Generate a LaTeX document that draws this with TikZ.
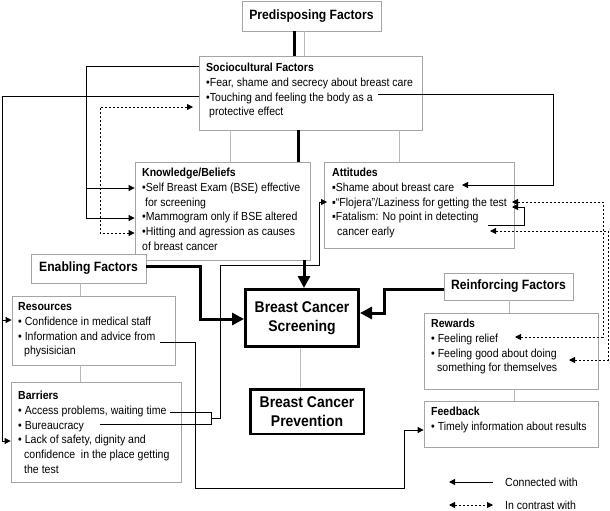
\documentclass[tikz,border=0pt]{standalone}
\usepackage{fontspec}
\setmainfont{Liberation Sans}[FakeStretch=0.9]
\usetikzlibrary{arrows.meta}
\definecolor{boxgray}{RGB}{165,165,165}
\definecolor{linegray}{RGB}{185,185,185}
\begin{document}
\begin{tikzpicture}[x=1pt,y=-1pt,
  box/.style={draw=boxgray, line width=0.8pt, fill=white, inner sep=0pt},
  ttl/.style={font=\fontsize{13.5}{16}\selectfont\bfseries},
  bigttl/.style={font=\fontsize{15.5}{19}\selectfont\bfseries, align=center},
  txt/.style={anchor=north west, inner sep=0pt, align=left, font=\fontsize{11.7}{14.7}\selectfont},
  lgd/.style={anchor=west, inner sep=0pt, font=\fontsize{11.7}{14.7}\selectfont},
  wire/.style={line width=0.8pt},
  conn/.style={line width=0.8pt, -{Triangle[length=6pt,width=6pt]}},
  dconn/.style={line width=0.8pt, dash pattern=on 2.5pt off 1.5pt, {Triangle[length=6pt,width=6pt]}-{Triangle[length=6pt,width=6pt]}},
  heavy/.style={line width=3pt},
  heavyarrow/.style={line width=3pt, -{Triangle[length=12pt,width=12pt]}},
  glink/.style={draw=linegray, line width=0.8pt}
]
\fill[white] (0,0) rectangle (610,511);
\useasboundingbox (0,0) rectangle (610,511);

% ---- boxes ----
\node[box, ttl, minimum width=139, minimum height=30] (pre) at (311.5,16) {Predisposing Factors};
\node[box, minimum width=223, minimum height=74] (soc) at (310.5,93) {};
\node[box, minimum width=175, minimum height=98] (know) at (222.5,211) {};
\node[box, minimum width=190, minimum height=86] (att) at (419,205) {};
\node[box, ttl, minimum width=115, minimum height=29] (enab) at (88.5,268.5) {Enabling Factors};
\node[box, minimum width=163, minimum height=69] (res) at (93.5,330.5) {};
\node[box, minimum width=170, minimum height=100] (bar) at (96,432) {};
\node[draw=black, line width=3pt, fill=white, bigttl, minimum width=113, minimum height=57] (scr) at (302,318) {Breast Cancer\\Screening};
\node[draw=black, line width=2.5pt, fill=white, bigttl, minimum width=113.5, minimum height=44.5] (prev) at (307,411.5) {Breast Cancer\\Prevention};
\node[box, ttl, minimum width=129, minimum height=27] (rein) at (508.5,286.5) {Reinforcing Factors};
\node[box, minimum width=174, minimum height=76] (rew) at (511,351) {};
\node[box, minimum width=174, minimum height=46] (feed) at (511,424) {};

% ---- texts ----
\node[txt] (soct) at (206,61.4) {\strut\textbf{Sociocultural Factors}\\•Fear, shame and secrecy about breast care\\•Touching and feeling the body as a\\\hspace*{3pt}protective effect};
\node[txt] (knowt) at (142,166.4) {\strut\textbf{Knowledge/Beliefs}\\•Self Breast Exam (BSE) effective\\\hspace*{3pt}for screening\\•Mammogram only if BSE altered\\•Hitting and agression as causes\\of breast cancer};
\node[txt] (attt) at (332,166.4) {\strut\textbf{Attitudes}\\▪Shame about breast care\\▪“Flojera”/Laziness for getting the test\\▪Fatalism: No point in detecting\\\hspace*{5pt}cancer early};
\node[txt] (rest) at (18,300.4) {\strut\textbf{Resources}\\• Confidence in medical staff\\• Information and advice from\\\hspace*{6pt}physisician};
\node[txt] (bart) at (18,389.4) {\strut\textbf{Barriers}\\• Access problems, waiting time\\• Bureaucracy\\• Lack of safety, dignity and\\\hspace*{6pt}confidence\ \ in the place getting\\\hspace*{6pt}the test};
\node[txt] (rewt) at (431,317.4) {\strut\textbf{Rewards}\\• Feeling relief\\• Feeling good about doing\\\hspace*{6pt}something for themselves};
\node[txt] (feedt) at (431,405.4) {\strut\textbf{Feedback}\\• Timely information about results};

% ---- hierarchy links ----
\draw[heavy] (pre.south -| 294,0) -- (soc.north -| 294,0);
\draw[glink] (pre.south -| 304,0) -- (soc.north -| 304,0);
\draw[heavy] (soc.south -| 298,0) -- (know.north -| 298,0);
\draw[glink] (soc.south -| 230,0) -- (know.north -| 230,0);
\draw[glink] (soc.south -| 399,0) -- (att.north -| 399,0);
\draw[glink] (enab.south -| 80,0) -- (res.north -| 80,0);
\draw[glink] (res.south -| 80,0) -- (bar.north -| 80,0);
\draw[glink] (scr.south -| 300,0) -- (prev.north -| 300,0);
\draw[glink] (rein.south -| 509,0) -- (rew.north -| 509,0);
\draw[glink] (rew.south -| 514,0) -- (feed.north -| 514,0);

% ---- heavy arrows to screening ----
\draw[heavyarrow] (know.south -| 304,0) -- (scr.north -| 304,0);
\draw[heavyarrow] (enab.east |- 0,266) -- (200,266) -- (200,319) -- (scr.west |- 0,319);
\draw[heavyarrow] (rein.west |- 0,289) -- (384,289) -- (384,313) -- (scr.east |- 0,313);

% ---- connectors ----
\coordinate (kv) at (86,188);
\draw[conn] (soc.west |- 0,66) -- (86,66) -- (86,218) -- (know.west |- 0,218);
\draw[conn] (kv) -- (know.west |- kv);

\coordinate (lv) at (2,320);
\draw[conn] (soc.west |- 0,96) -- (2,96) -- (2,441) -- (bar.west |- 0,441);
\draw[conn] (lv) -- (res.west |- lv);

\coordinate (sbody) at (378,94);
\coordinate (ashame) at (462,185);
\draw[conn] (sbody) -- (553,94) -- (553,185) -- (ashame);

\coordinate (stouch) at (193,107);
\draw[dconn] (stouch) -- (100,107) -- (100,233) -- (know.west |- 0,233);

\coordinate (bacc) at (170,412);
\coordinate (bbur) at (100,424);
\coordinate (aflo) at (327,202);
\draw[wire] (bacc) -- (211,412) -- (211,424) -- (bbur);
\draw[conn] (211,418) -- (220,418) -- (220,265) -- (319,265) -- (319,202) -- (aflo);

\coordinate (rinfo) at (160,342);
\draw[conn] (rinfo) -- (195,342) -- (195,488) -- (404,488) -- (404,430) -- (feed.west |- 0,430);

\coordinate (afat) at (488,225);
\coordinate (atest) at (512,207);
\draw[conn] (afat) -- (524,225) -- (524,207) -- (atest);

\coordinate (aflo2) at (512,202);
\coordinate (wrel) at (515,337);
\draw[dconn] (aflo2) -- (603,202) -- (603,337) -- (wrel);

\coordinate (acan) at (490,231);
\coordinate (wgood) at (569,360);
\draw[dconn] (acan) -- (608,231) -- (608,360) -- (wgood);

% ---- legend ----
\coordinate (l1a) at (493,482);
\coordinate (l1b) at (449,482);
\draw[conn] (l1a) -- (l1b);
\node[lgd] (lgd1) at (505,482) {Connected with};
\coordinate (l2a) at (449,505);
\coordinate (l2b) at (493,505);
\draw[dconn] (l2a) -- (l2b);
\node[lgd] (lgd2) at (505,505) {In contrast with};
\end{tikzpicture}
\end{document}
